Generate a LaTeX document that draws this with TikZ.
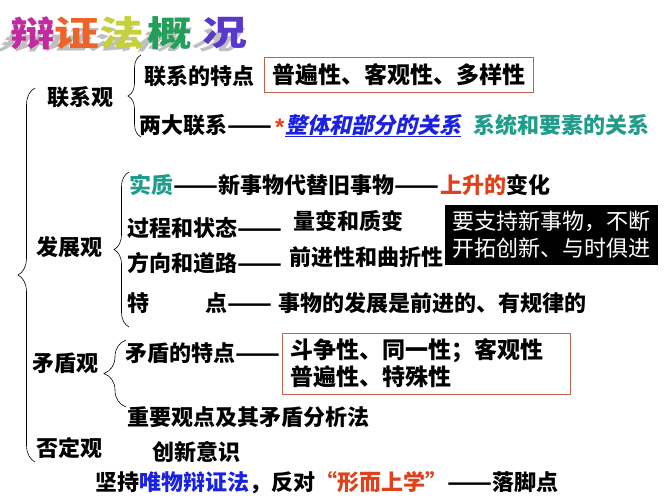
\documentclass[tikz,border=0pt]{standalone}
\usepackage{fontspec}
\usepackage{graphicx}
\newfontfamily\cjk{Noto Sans CJK SC}
\newfontfamily\cjkit{Noto Sans CJK SC}[FakeSlant=0.22]
\newfontfamily\lsans{Liberation Sans}
\newcommand\dd{\resizebox{45pt}{\height}{——}}
\usetikzlibrary{decorations.pathreplacing}
\definecolor{tealc}{HTML}{1F9C8A}
\definecolor{bluec}{HTML}{1A22E0}
\definecolor{redc}{HTML}{E0401A}
\definecolor{boxc}{HTML}{C0604D}
\definecolor{t1}{HTML}{C02CA0}
\definecolor{t2}{HTML}{EE6428}
\definecolor{t3}{HTML}{C6D03A}
\definecolor{t4}{HTML}{22A05A}
\definecolor{t5}{HTML}{5A38CC}
\begin{document}
\begin{tikzpicture}[x=1pt,y=-1pt,
  txt/.style={anchor=west, inner sep=0pt, font=\cjk\bfseries\fontsize{22}{27}\selectfont},
  big/.style={inner sep=0pt, font=\cjk\bfseries\fontsize{35}{40}\selectfont},
  shadowc/.style={big, text=black!25},
  framebox/.style={draw=boxc, line width=0.8pt, inner sep=0pt, font=\cjk\bfseries\fontsize{23}{27}\selectfont},
  darkbox/.style={fill=black, text=white, inner sep=0pt, align=left, minimum width=213pt, minimum height=60pt, font=\cjk\fontsize{22}{27}\selectfont},
  bracel/.style={decorate, decoration={brace, amplitude=#1}, line width=0.6pt}
]
\useasboundingbox (0,0) rectangle (667,500);
\fill[white] (0,0) rectangle (667,500);

% title shadow
\foreach \c/\x in {辩/33, 证/77, 法/122, 概/170, 况/225}{
  \node[shadowc, xscale=1.3, yscale=0.75, xslant=0.4, transform shape] at (\x-6,40) {\c};
}
\begin{scope}[xscale=1.28, transform shape]
\node[big, text=t1] (ti1) at (33/1.28,33) {辩};
\node[big, text=t2] (ti2) at (77/1.28,33) {证};
\node[big, text=t3] (ti3) at (122/1.28,33) {法};
\node[big, text=t4] (ti4) at (170/1.28,33) {概};
\node[big, text=t5] (ti5) at (225/1.28,33) {况};
\end{scope}

% big brace
\coordinate (bigtop) at (35,88);
\coordinate (bigbot) at (35,462);
\draw[bracel=17pt] (bigbot) -- (bigtop);

% 联系观
\node[txt] (lxg) at (47,97) {联系观};
\coordinate (b1top) at (141,55);
\coordinate (b1bot) at (141,137);
\draw[bracel=13pt] (b1bot) -- (b1top);
\node[txt] (lxtd) at (144,76) {联系的特点};
\node[framebox, minimum width=269pt, minimum height=35pt] (pbx) at (399,74.5) {普遍性、客观性、多样性};
\node[txt] (ldlx) at (139,125) {两大联系\dd};
\node[txt, text=redc, font=\lsans\bfseries\fontsize{24}{27}\selectfont] (ast) at (275,127) {*};
\node[txt, text=bluec, font=\cjkit\bfseries\fontsize{22}{27}\selectfont] (ztbf) at (285,125) {整体和部分的关系};
\draw[bluec, line width=0.9pt] ([yshift=-1pt]ztbf.south west) -- ([yshift=-1pt]ztbf.south east);
\node[txt, text=tealc] (xtys) at (473,125) {系统和要素的关系};

% 发展观
\node[txt] (fzg) at (36,247) {发展观};
\coordinate (b2top) at (129,172);
\coordinate (b2bot) at (129,327);
\draw[bracel=15pt] (b2bot) -- (b2top);
\node[txt, text=tealc] (sz) at (129,185) {实质};
\node[txt] (xsw) at (sz.east) {\dd 新事物代替旧事物\dd};
\node[txt, text=redc] (ss) at (xsw.east) {上升的};
\node[txt] (bh) at (ss.east) {变化};
\node[txt] (gc) at (127,228) {过程和状态\dd};
\node[txt] (lb) at (293,221) {量变和质变};
\node[darkbox] (zc) at (551.5,235) {要支持新事物，不断\\开拓创新、与时俱进};
\node[txt] (fx) at (127,263) {方向和道路\dd};
\node[txt] (qj) at (289,257) {前进性和曲折性};
\node[txt] (td) at (127,303) {特\hspace{56pt}点\dd};
\node[txt] (sw) at (278,303) {事物的发展是前进的、有规律的};

% 矛盾观
\node[txt] (mdg) at (32,363) {矛盾观};
\coordinate (b3top) at (126,340);
\coordinate (b3bot) at (126,407);
\draw[bracel=22pt] (b3bot) -- (b3top);
\node[txt] (mdtd) at (125,353) {矛盾的特点\dd};
\node[framebox, text width=272pt, inner xsep=8pt, minimum height=61pt, align=left] (dzx) at (426,363.5) {斗争性、同一性；客观性\\普遍性、特殊性};
\node[txt] (zy) at (127,417) {重要观点及其矛盾分析法};

% 否定观
\node[txt] (fdg) at (36,448) {否定观};
\node[txt] (cx) at (152,452) {创新意识};

% bottom
\node[txt] (jc) at (95,483) {坚持\textcolor{bluec}{唯物辩证法}，反对\textcolor{redc}{“形而上学”}\dd 落脚点};
\end{tikzpicture}
\end{document}
